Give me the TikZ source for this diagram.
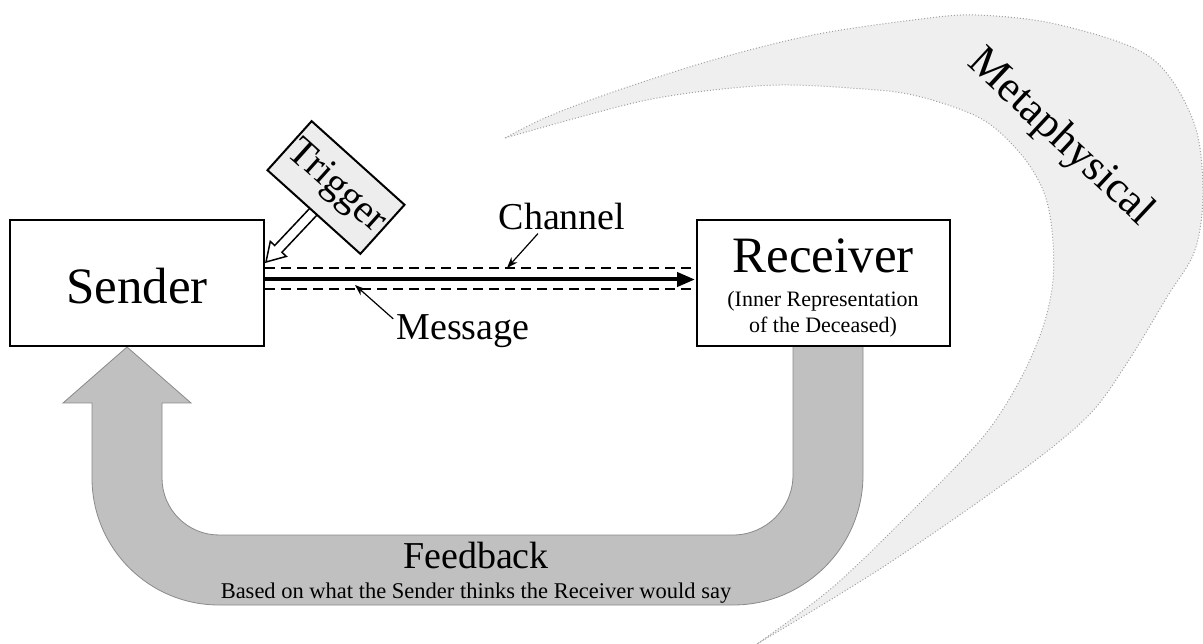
\documentclass[tikz,border=0pt]{standalone}
\usepackage{fontspec}
\setmainfont{Liberation Serif}
\usetikzlibrary{arrows.meta,calc}
\definecolor{metafill}{HTML}{EFEFEF}
\definecolor{metaline}{HTML}{A0A0A0}
\definecolor{fbfill}{HTML}{C0C0C0}
\definecolor{fbline}{HTML}{8A8A8A}
\definecolor{trigfill}{HTML}{EDEDED}
\begin{document}
\begin{tikzpicture}[x=1pt,y=-1pt,
  box/.style={draw, line width=2pt, fill=white, minimum width=254pt, minimum height=126pt, inner sep=0pt},
  chan/.style={line width=2.4pt, dash pattern=on 10pt off 6pt},
  pointer/.style={line width=1.2pt, -{Stealth[length=11pt,width=8pt]}},
  lbl/.style={inner sep=0pt, anchor=base},
  big/.style={font=\fontsize{51}{56}\selectfont},
  mid/.style={font=\fontsize{38}{42}\selectfont},
  small/.style={font=\fontsize{22}{26}\selectfont},
]
\useasboundingbox (0,0) rectangle (1203,644);

% Metaphysical crescent
\path[fill=metafill, draw=metaline, line width=1pt, dotted]
  plot[smooth, tension=0.55] coordinates {(505,138) (547,117) (613,92) (713,60) (813,35) (913,20) (977,15) (1060,25) (1150,57) (1193,120) (1203,190) (1195,250) (1167,297) (1127,363) (1087,417) (1013,477) (883,567) (757,644)}
  -- plot[smooth, tension=0.55] coordinates {(757,644) (833,587) (913,510) (983,437) (1020,380) (1043,327) (1053,280) (1052,230) (1043,190) (1020,153) (980,118) (913,95) (850,88) (780,85) (713,90) (647,100) (580,117) (505,138)}
  -- cycle;
\node[inner sep=0pt, rotate=-43, font=\fontsize{44}{48}\selectfont] (meta) at (1060,138) {Metaphysical};

% Feedback block arrow
\path[fill=fbfill, draw=fbline, line width=0.8pt]
  (793,346) -- (793,475) arc[start angle=0,end angle=90,radius=60]
  -- (219,535) arc[start angle=90,end angle=180,radius=57]
  -- (162,403) -- (191,403) -- (127,347) -- (63,403) -- (92,403)
  -- (92,478) arc[start angle=180,end angle=90,radius=127]
  -- (733,605) arc[start angle=90,end angle=0,radius=130]
  -- (863,346) -- cycle;
\node[lbl, mid] (feedback) at (476,568) {Feedback};
\node[lbl, font=\fontsize{22.5}{26}\selectfont] (fbnote) at (476,598) {Based on what the Sender thinks the Receiver would say};

% Boxes
\node[box] (sender) at (137,283) {};
\node[lbl, big] (sendertext) at (137,304) {Sender};
\node[box, minimum width=253pt] (receiver) at (823.5,283) {};
\node[lbl, big] (rtitle) at (823,273) {Receiver};
\node[lbl, small] (rsub1) at (823,307) {(Inner Representation};
\node[lbl, small] (rsub2) at (823,333) {of the Deceased)};

% Channel and message lines
\draw[chan] ([yshift=15pt]sender.east) -- ([yshift=15pt,xshift=-5pt]receiver.west);
\draw[chan] ([yshift=-6pt]sender.east) -- ([yshift=-6pt,xshift=-5pt]receiver.west);
\draw[line width=4pt, -{Triangle[length=18pt,width=14pt]}] ([yshift=3.5pt]sender.east) -- ([yshift=3.5pt,xshift=-1pt]receiver.west);

% Labels with pointers
\node[lbl, mid] (channel) at (562,230) {Channel};
\coordinate (chanpt) at (507,268);
\draw[pointer] ($(channel.south)+(-24,3)$) -- (chanpt);
\node[lbl, mid] (message) at (463,340) {Message};
\coordinate (msgpt) at (355,285);
\draw[pointer] ($(message.north west)+(-3,4)$) -- (msgpt);

% Trigger arrow and box
\path[draw=black, fill=white, line width=1.5pt, line join=miter]
  (266,262) -- (286.3,256.4) -- (281.9,252.3) -- (321.1,210.7) -- (313.9,203.9) -- (274.7,245.5) -- (270.3,241.4) -- cycle;
\node[draw, line width=2pt, fill=trigfill, rotate=-42, minimum width=125pt, minimum height=66pt, inner sep=0pt, font=\fontsize{40}{44}\selectfont] (trigger) at (336,187.5) {Trigger};
\end{tikzpicture}
\end{document}
